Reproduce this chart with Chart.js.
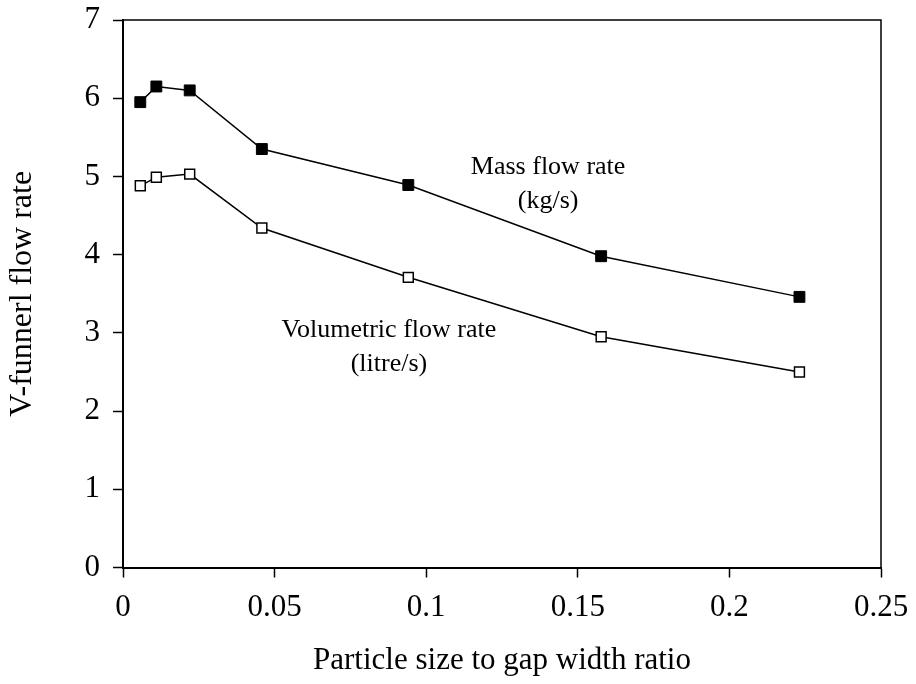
<!DOCTYPE html>
<meta charset="utf-8">
<style>
html, body {
  margin: 0;
  background: #fff;
}

.chart-box {
  width: 916px;
  height: 684px;
}
</style>
<body>

<div class="chart-box"><canvas id="chart"></canvas></div>

<script src="https://cdn.jsdelivr.net/npm/chart.js@4"></script>
<script>
"use strict";

// values
const particleRatio = [0.0057, 0.011, 0.022, 0.0458, 0.0941, 0.1577, 0.2231];
const massFlow = [5.95, 6.15, 6.10, 5.35, 4.89, 3.98, 3.46];
const volumetricFlow = [4.88, 4.99, 5.03, 4.34, 3.71, 2.95, 2.50];

const xTicks = [0, 0.05, 0.1, 0.15, 0.2, 0.25];
const yTicks = [0, 1, 2, 3, 4, 5, 6, 7];

const seriesNotes = [
  ["Mass flow rate", "(kg/s)"],
  ["Volumetric flow rate", "(litre/s)"]
];

const FONT = "'Liberation Serif', 'Times New Roman', serif";

function points(ys) {
  return particleRatio.map(function (x, i) {
    return { x: x, y: ys[i] };
  });
}

// frame on top / right + the text next to each curve
const framePlugin = {
  id: "frame",
  afterDraw: function (chart, args, opts) {
    const ctx = chart.ctx;
    const area = chart.chartArea;
    const xs = chart.scales.x;
    const ys = chart.scales.y;

    ctx.save();
    ctx.strokeStyle = "#000";
    ctx.lineWidth = 1.5;
    ctx.beginPath();
    ctx.moveTo(area.left, area.top);
    ctx.lineTo(area.right, area.top);
    ctx.lineTo(area.right, area.bottom);
    ctx.stroke();

    ctx.fillStyle = "#000";
    ctx.font = "26px " + FONT;
    ctx.textAlign = "center";
    ctx.textBaseline = "middle";
    opts.anchors.forEach(function (a, i) {
      const cx = xs.getPixelForValue(a.x);
      const cy = ys.getPixelForValue(a.y);
      seriesNotes[i].forEach(function (line, j) {
        ctx.fillText(line, cx, cy + j * 34);
      });
    });
    ctx.restore();
  }
};

new Chart(document.getElementById("chart"), {
  type: "scatter",
  data: {
    datasets: [
      {
        label: "Mass flow rate",
        data: points(massFlow),
        showLine: true,
        borderColor: "#000",
        borderWidth: 1.5,
        pointStyle: "rect",
        pointRadius: 7.7,
        pointBorderWidth: 1,
        pointBackgroundColor: "#000",
        pointBorderColor: "#000"
      },
      {
        label: "Volumetric flow rate",
        data: points(volumetricFlow),
        showLine: true,
        borderColor: "#000",
        borderWidth: 1.5,
        pointStyle: "rect",
        pointRadius: 7,
        pointBorderWidth: 1.5,
        pointBackgroundColor: "#fff",
        pointBorderColor: "#000"
      }
    ]
  },
  options: {
    responsive: true,
    maintainAspectRatio: false,
    animation: false,
    layout: {
      padding: { top: 20, right: 35, left: 0, bottom: 0 }
    },
    plugins: {
      legend: { display: false },
      tooltip: { enabled: false },
      frame: {
        anchors: [
          { x: 0.1402, y: 5.12 },
          { x: 0.0877, y: 3.03 }
        ]
      }
    },
    scales: {
      x: {
        type: "linear",
        min: 0,
        max: 0.25,
        afterBuildTicks: function (scale) {
          scale.ticks = xTicks.map(function (v) { return { value: v }; });
        },
        afterFit: function (scale) {
          scale.height = 116.5;
          scale.paddingLeft = 0;
          scale.paddingRight = 0;
        },
        ticks: {
          color: "#000",
          padding: 12,
          maxRotation: 0,
          font: { family: FONT, size: 31 },
          callback: function (v) { return String(v); }
        },
        grid: {
          drawOnChartArea: false,
          drawTicks: true,
          tickLength: 10,
          tickWidth: 1.5,
          tickColor: "#000"
        },
        border: { color: "#000", width: 2 },
        title: {
          display: true,
          text: "Particle size to gap width ratio",
          color: "#000",
          padding: { top: 0, bottom: 5 },
          font: { family: FONT, size: 31 }
        }
      },
      y: {
        type: "linear",
        min: 0,
        max: 7,
        afterBuildTicks: function (scale) {
          scale.ticks = yTicks.map(function (v) { return { value: v }; });
        },
        afterFit: function (scale) {
          scale.width = 123;
          scale.paddingTop = 0;
          scale.paddingBottom = 0;
        },
        ticks: {
          color: "#000",
          padding: 13,
          font: { family: FONT, size: 31 }
        },
        grid: {
          drawOnChartArea: false,
          drawTicks: true,
          tickLength: 10,
          tickWidth: 1.5,
          tickColor: "#000"
        },
        border: { color: "#000", width: 2 },
        title: {
          display: true,
          text: "V-funnerl flow rate",
          color: "#000",
          padding: { top: 3, bottom: 0 },
          font: { family: FONT, size: 32 }
        }
      }
    }
  },
  plugins: [framePlugin]
});
</script>
</body>
